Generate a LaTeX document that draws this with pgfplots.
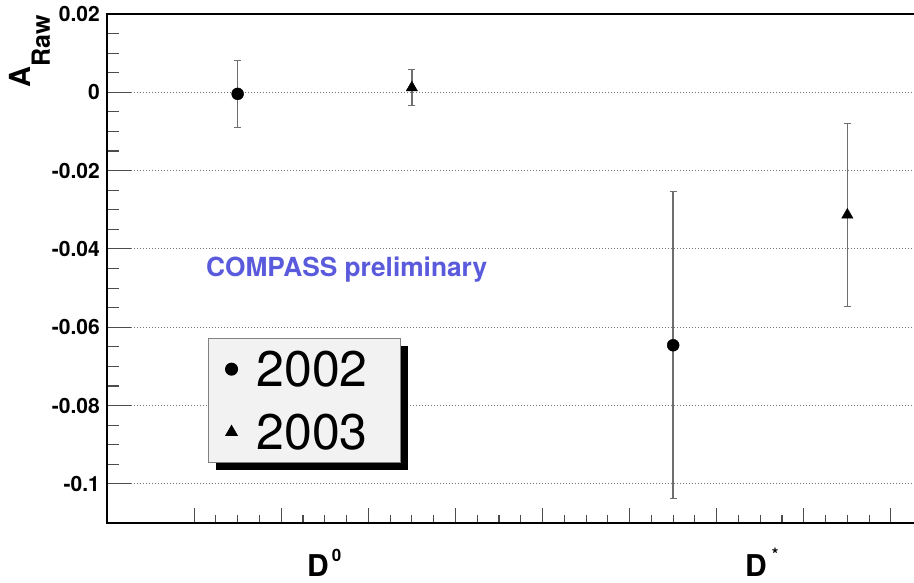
\documentclass[border=0pt]{standalone}
\usepackage{pgfplots}
\pgfplotsset{compat=1.18}
\usepackage{fontspec}
\setmainfont{TeX Gyre Heros}
\usetikzlibrary{shadows}
\definecolor{compassblue}{RGB}{90,90,220}
\definecolor{errgray}{RGB}{110,110,110}
\begin{document}
\begin{tikzpicture}
% main axis: frame, y ticks, grid, data
\begin{axis}[
  scale only axis, width=871pt, height=509pt,
  xmin=0, xmax=10, ymin=-0.11, ymax=0.02,
  xtick=\empty,
  ytick={-0.1,-0.08,-0.06,-0.04,-0.02,0,0.02},
  yticklabels={-0.1,-0.08,-0.06,-0.04,-0.02,0,0.02},
  minor y tick num=3,
  tick pos=left, tick align=inside,
  major tick length=24pt, minor tick length=12pt,
  ytick style={line width=1.1pt, color=black!70},
  axis line style={line width=1.3pt},
  yticklabel style={font=\bfseries\fontsize{21}{21}\selectfont, inner sep=0pt, xshift=-7pt},
  ymajorgrids,
  grid style={line width=1pt, color=black!55, dash pattern=on 1pt off 2pt},
  clip=false,
  legend style={at={(axis cs:1.16,-0.0628)}, anchor=north west,
    fill=black!5, draw=black!50, line width=1pt,
    font=\fontsize{50}{50}\selectfont,
    inner xsep=17pt, inner ysep=12pt, row sep=26pt,
    nodes={inner sep=0pt},
    drop shadow={shadow xshift=7pt, shadow yshift=-7pt, fill=black, opacity=1},
    /tikz/every odd column/.append style={column sep=19pt},
    /tikz/every even column/.append style={text width=127pt, align=left}},
  legend cell align=left,
]
\addplot[only marks, mark=*, mark size=6pt, color=black,
  error bars/.cd, y dir=both, y explicit, error mark=-,
  error bar style={line width=1.5pt, color=errgray},
  error mark options={rotate=90, color=errgray, mark size=3.5pt, line width=1pt}]
  coordinates {(1.5,-0.0004) +- (0,0.0085) (6.5,-0.0646) +- (0,0.0392)};
\addlegendentry{2002}
\addplot[only marks, mark=triangle*, mark size=6.5pt, color=black,
  error bars/.cd, y dir=both, y explicit, error mark=-,
  error bar style={line width=1.5pt, color=errgray},
  error mark options={rotate=90, color=errgray, mark size=3.5pt, line width=1pt}]
  coordinates {(3.5,0.0012) +- (0,0.0046) (8.5,-0.0313) +- (0,0.0233)};
\addlegendentry{2003}
\coordinate (TL) at (rel axis cs:0,1);
\coordinate (L0) at (axis cs:2.296,-0.11);
\coordinate (L1) at (axis cs:7.325,-0.11);
\node[anchor=base west, inner sep=0pt, text=compassblue,
  font=\bfseries\fontsize{26.3}{26.3}\selectfont] at (axis cs:1.137,-0.0471) {COMPASS preliminary};
\end{axis}
\node[rotate=90, anchor=base east, inner sep=0pt, font=\bfseries] at ([xshift=-76pt,yshift=-1pt]TL)
  {{\fontsize{29}{29}\selectfont A}\raisebox{-19pt}{\fontsize{25}{25}\selectfont Raw}};
\node[anchor=base west, inner sep=0pt, font=\bfseries] at ([yshift=-54pt]L0)
  {\fontsize{30}{30}\selectfont D\hspace{3pt}\raisebox{15pt}{\fontsize{17}{17}\selectfont 0}};
\node[anchor=base west, inner sep=0pt, font=\bfseries] at ([yshift=-54pt]L1)
  {\fontsize{30}{30}\selectfont D\hspace{5pt}\raisebox{16pt}{\fontsize{17}{17}\selectfont *}};
% overlay axis for the x ticks
\begin{axis}[
  scale only axis, width=871pt, height=509pt,
  xmin=0, xmax=10, ymin=-0.11, ymax=0.02,
  axis x line*=bottom, axis y line=none,
  xtick={1,2,3,4,5,6,7,8,9}, xticklabels={},
  minor x tick num=3,
  tick align=inside,
  major tick length=15pt, minor tick length=7.5pt,
  xtick style={line width=1.1pt, color=black!70},
  axis line style={line width=1.3pt},
]
\end{axis}
\pgfresetboundingbox
\path[use as bounding box] (-107pt,-60pt) rectangle (807pt,523pt);
\end{tikzpicture}
\end{document}
